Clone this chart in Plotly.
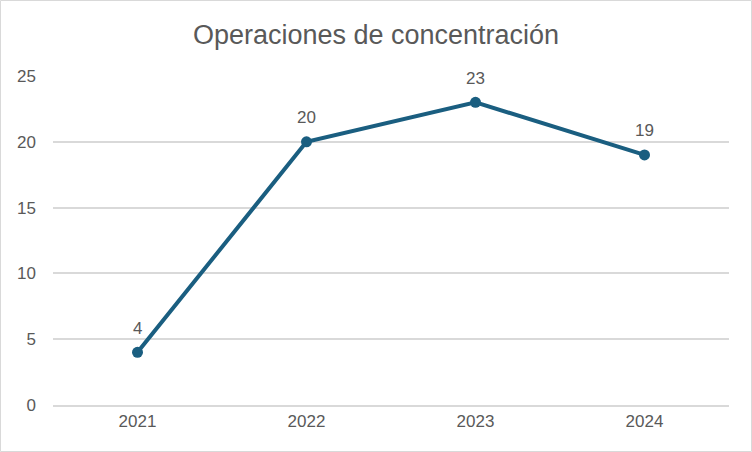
import plotly.graph_objects as go

years = ["2021", "2022", "2023", "2024"]
operaciones = [4, 20, 23, 19]
title_text = "Operaciones de concentración"

W, H = 752, 452
ml, mr, mt, mb = 53, 23, 76, 47
pw, ph = W - ml - mr, H - mt - mb
grey = "#595959"
line_col = "#1a5e80"

fig = go.Figure()
fig.add_trace(go.Scatter(
    x=years, y=operaciones, mode="lines+markers",
    line=dict(color=line_col, width=4),
    marker=dict(size=11, color=line_col),
    cliponaxis=False, showlegend=False, hoverinfo="x+y",
))

annotations = [
    dict(x=i, y=v, text=str(v), showarrow=False, yshift=24, xref="x", yref="y",
         font=dict(size=17, color=grey, family="Liberation Sans"))
    for i, v in enumerate(operaciones)
]

fig.update_layout(
    width=W, height=H,
    margin=dict(l=ml, r=mr, t=mt, b=mb),
    paper_bgcolor="white", plot_bgcolor="white",
    font=dict(family="Liberation Sans", color=grey, size=17),
    title=dict(text=title_text, x=0.5, xanchor="center", y=1 - 35 / H, yanchor="middle",
               font=dict(size=27, color=grey, family="Liberation Sans")),
    xaxis=dict(type="category", showgrid=False, showline=True, linecolor="#d9d9d9", linewidth=1.5,
               ticks="", tickfont=dict(size=17, color=grey), range=[-0.5, 3.5]),
    yaxis=dict(range=[0, 25], dtick=5, showgrid=True, gridcolor="#d9d9d9", gridwidth=1.5,
               zeroline=False, showline=False, ticks="", ticklabelstandoff=16,
               tickfont=dict(size=17, color=grey)),
    annotations=annotations,
    shapes=[dict(type="rect", xref="paper", yref="paper",
                 x0=-(ml - 0.5) / pw, x1=(W - 0.5 - ml) / pw,
                 y0=-(mb - 0.5) / ph, y1=(H - 0.5 - mb) / ph,
                 line=dict(color="#d9d9d9", width=1), layer="below")],
)

fig.write_html("out.html", config={"displayModeBar": False},
               post_script="document.body.style.margin='0px';")
